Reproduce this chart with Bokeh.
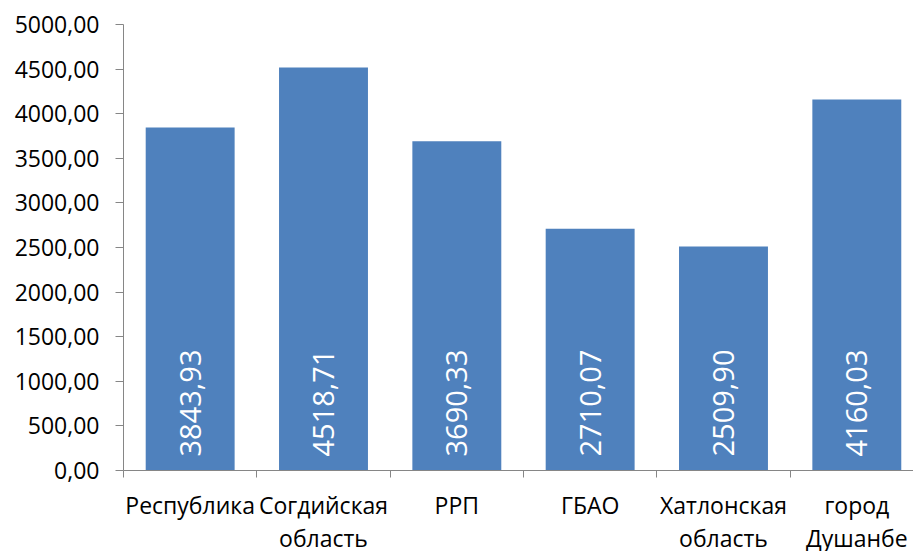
from bokeh.plotting import figure
from bokeh.models import Range1d, FixedTicker, ColumnDataSource
from bokeh.core.properties import value
from bokeh.embed import file_html
from bokeh.resources import INLINE
import math

categories = ["Республика", "Согдийская\nобласть", "РРП", "ГБАО", "Хатлонская\nобласть", "город\nДушанбе"]
values = [3843.93, 4518.71, 3690.33, 2710.07, 2509.90, 4160.03]
y_ticks = [0, 500, 1000, 1500, 2000, 2500, 3000, 3500, 4000, 4500, 5000]

def fmt(v):
    return f"{v:.2f}".replace(".", ",")

xs = [i + 0.5 for i in range(len(categories))]
src = ColumnDataSource(dict(x=xs, top=values, label=[fmt(v) for v in values]))

W, H = 913, 564
p = figure(width=W, height=H, output_backend="svg", toolbar_location=None,
           x_range=Range1d(0, 790 / 133.33), y_range=Range1d(0, 5000),
           min_border_left=123, min_border_top=24, min_border_right=0, min_border_bottom=94)
p.outline_line_color = None
p.xgrid.visible = False
p.ygrid.visible = False
p.background_fill_color = "white"
p.border_fill_color = "white"

p.vbar(x="x", top="top", bottom=0, width=0.667, source=src, fill_color="#4F81BD", line_color=None)
p.text(x="x", y=0, text="label", source=src, angle=math.pi / 2, y_offset=-14,
       text_align="left", text_baseline="middle", text_color="white",
       text_font=value("Open Sans"), text_font_size="29px")

ax = p.xaxis[0]
ax.ticker = FixedTicker(ticks=xs, minor_ticks=list(range(len(categories) + 1)))
ax.major_label_overrides = {x: c for x, c in zip(xs, categories)}
ax.major_tick_line_color = None
ax.major_tick_out = 0
ax.major_tick_in = 0
ax.minor_tick_out = 7
ax.minor_tick_in = 0
ax.minor_tick_line_color = "#868686"
ax.axis_line_color = "#868686"
ax.major_label_text_font = "Open Sans"
ax.major_label_text_font_size = "23px"
ax.major_label_text_color = "black"
ax.major_label_text_line_height = 1.05
ax.major_label_standoff = 11

ay = p.yaxis[0]
ay.ticker = FixedTicker(ticks=y_ticks, minor_ticks=[])
ay.major_label_overrides = {t: fmt(t) for t in y_ticks}
ay.major_tick_out = 8
ay.major_tick_in = 0
ay.minor_tick_line_color = None
ay.major_tick_line_color = "#868686"
ay.axis_line_color = "#868686"
ay.major_label_text_font = "Open Sans"
ay.major_label_text_font_size = "23px"
ay.major_label_text_color = "black"
ay.major_label_standoff = 16

open("out.html", "w").write(file_html(p, INLINE))
